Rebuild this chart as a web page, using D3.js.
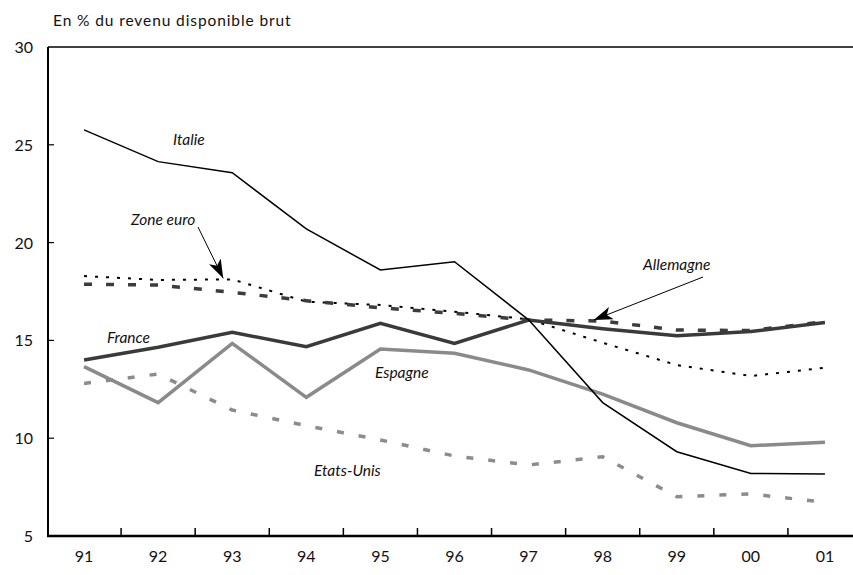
<!DOCTYPE html>
<html>
<head>
<meta charset="utf-8">
<script src="https://cdn.jsdelivr.net/npm/d3@7"></script>
<style>
  body { margin: 0; background: #fff; }
  text { font-family: Lato, "Open Sans", sans-serif; fill: #111; }
</style>
</head>
<body>
<div id="root"></div>
<script>
var width = 853,
    height = 575;

// années (étiquettes de l'axe)
var years = ["91", "92", "93", "94", "95", "96", "97", "98", "99", "00", "01"];
var yTicks = [5, 10, 15, 20, 25, 30];

// taux d'épargne, en % du revenu disponible brut
var italie     = [25.76, 24.14, 23.57, 20.7, 18.6, 19.02, 16.05, 11.82, 9.31, 8.2, 8.17];
var zoneEuro   = [18.29, 18.09, 18.12, 16.98, 16.81, 16.47, 16.08, 14.88, 13.74, 13.18, 13.6];
var allemagne  = [17.87, 17.83, 17.46, 17.03, 16.67, 16.38, 16.04, 15.99, 15.53, 15.5, 15.96];
var france     = [14.0, 14.65, 15.41, 14.68, 15.87, 14.85, 16.04, 15.6, 15.24, 15.45, 15.92];
var espagne    = [13.66, 11.82, 14.85, 12.09, 14.56, 14.34, 13.49, 12.25, 10.79, 9.62, 9.79];
var etatsUnis  = [12.8, 13.28, 11.44, 10.64, 9.91, 9.09, 8.63, 9.05, 7.01, 7.15, 6.72];

var series = [
    { name: "Etats-Unis", values: etatsUnis, color: "#8c8c8c", width: 3.5, dash: "7,15" },
    { name: "Espagne", values: espagne, color: "#8a8a8a", width: 3.5, dash: null },
    { name: "Zone euro", values: zoneEuro, color: "#000", width: 2, dash: "3,8" },
    { name: "Allemagne", values: allemagne, color: "#3c3c3c", width: 3.5, dash: "8,14" },
    { name: "France", values: france, color: "#3a3a3a", width: 3.5, dash: null },
    { name: "Italie", values: italie, color: "#000", width: 1.5, dash: null }
];

var x = d3.scalePoint()
    .domain(years)
    .range([47, 862])
    .padding(0.5);

var y = d3.scaleLinear()
    .domain([5, 30])
    .range([536, 47]);

var svg = d3.select("#root")
    .append("svg")
    .attr("width", width)
    .attr("height", height);

// flèches
var defs = svg.append("defs");
defs.append("marker")
    .attr("id", "fleche")
    .attr("viewBox", "0 0 19 13")
    .attr("refX", 19)
    .attr("refY", 6.5)
    .attr("markerWidth", 19)
    .attr("markerHeight", 13)
    .attr("markerUnits", "userSpaceOnUse")
    .attr("orient", "auto")
    .append("path")
    .attr("d", "M0,0 L19,6.5 L0,13 L5,6.5 Z")
    .attr("fill", "#000");

// titre
svg.append("text")
    .attr("x", 53)
    .attr("y", 26)
    .style("font-size", "15.5px")
    .style("letter-spacing", "0.9px")
    .text("En % du revenu disponible brut");

// cadre : ligne du haut
svg.append("line")
    .attr("x1", 48).attr("x2", width)
    .attr("y1", y(30)).attr("y2", y(30))
    .attr("stroke", "#000")
    .attr("stroke-width", 1.5);

// axe des ordonnées
svg.append("line")
    .attr("x1", 48).attr("x2", 48)
    .attr("y1", y(30)).attr("y2", y(5))
    .attr("stroke", "#000")
    .attr("stroke-width", 2);

svg.selectAll(".ytick")
    .data(yTicks.slice(1, -1))
    .enter()
    .append("line")
    .attr("x1", 48).attr("x2", 54)
    .attr("y1", function (d) { return y(d); })
    .attr("y2", function (d) { return y(d); })
    .attr("stroke", "#000")
    .attr("stroke-width", 1.2);

svg.selectAll(".ylab")
    .data(yTicks)
    .enter()
    .append("text")
    .attr("x", 33)
    .attr("y", function (d) { return y(d) + 6; })
    .attr("text-anchor", "end")
    .style("font-size", "16px")
    .text(function (d) { return d; });

// axe des abscisses
svg.append("line")
    .attr("x1", 47).attr("x2", width)
    .attr("y1", y(5)).attr("y2", y(5))
    .attr("stroke", "#000")
    .attr("stroke-width", 2.5);

svg.selectAll(".xtick")
    .data(years.slice(0, -1))
    .enter()
    .append("line")
    .attr("x1", function (d) { return x(d) + x.step() / 2; })
    .attr("x2", function (d) { return x(d) + x.step() / 2; })
    .attr("y1", y(5)).attr("y2", y(5) - 8)
    .attr("stroke", "#000")
    .attr("stroke-width", 1.5);

svg.selectAll(".xlab")
    .data(years)
    .enter()
    .append("text")
    .attr("x", function (d) { return x(d); })
    .attr("y", 562)
    .attr("text-anchor", "middle")
    .style("font-size", "16px")
    .text(function (d) { return d; });

// courbes
var line = d3.line()
    .x(function (d, i) { return x(years[i]); })
    .y(function (d) { return y(d); });

svg.selectAll(".serie")
    .data(series)
    .enter()
    .append("path")
    .attr("d", function (d) { return line(d.values); })
    .attr("fill", "none")
    .attr("stroke", function (d) { return d.color; })
    .attr("stroke-width", function (d) { return d.width; })
    .attr("stroke-dasharray", function (d) { return d.dash; })
    .attr("stroke-linejoin", "miter");

// étiquettes des séries
var labels = [
    { text: "Italie", x: 173, y: 145 },
    { text: "Zone euro", x: 131, y: 225 },
    { text: "France", x: 107, y: 343 },
    { text: "Espagne", x: 375, y: 378 },
    { text: "Etats-Unis", x: 314, y: 476 },
    { text: "Allemagne", x: 643, y: 270 }
];

svg.selectAll(".lab")
    .data(labels)
    .enter()
    .append("text")
    .attr("x", function (d) { return d.x; })
    .attr("y", function (d) { return d.y; })
    .style("font-size", "15.5px")
    .style("font-style", "italic")
    .text(function (d) { return d.text; });

// flèches vers Zone euro (93) et Allemagne (98)
var arrows = [
    { x1: 198, y1: 227, year: "93", value: zoneEuro[2] },
    { x1: 703, y1: 277, year: "98", value: allemagne[7] }
];

svg.selectAll(".fleche")
    .data(arrows)
    .enter()
    .append("line")
    .attr("x1", function (d) { return d.x1; })
    .attr("y1", function (d) { return d.y1; })
    .attr("x2", function (d) { return x(d.year) - 9; })
    .attr("y2", function (d) { return y(d.value) - 1; })
    .attr("stroke", "#000")
    .attr("stroke-width", 1)
    .attr("marker-end", "url(#fleche)");
</script>
</body>
</html>
